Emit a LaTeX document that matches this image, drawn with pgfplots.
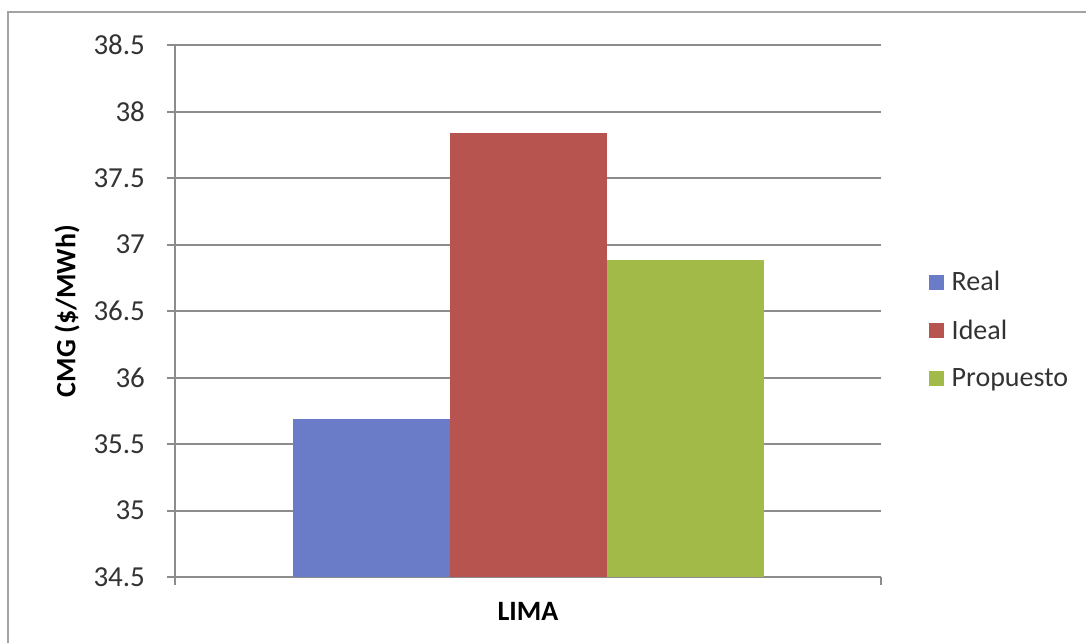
\documentclass[border=0pt]{standalone}
\usepackage{fontspec}
\setmainfont{Carlito}
\usepackage{pgfplots}
\pgfplotsset{compat=1.18}
\definecolor{cReal}{RGB}{106,124,200}
\definecolor{cIdeal}{RGB}{184,84,80}
\definecolor{cProp}{RGB}{162,186,72}
\definecolor{cGrid}{RGB}{140,140,140}
\begin{document}
\begin{tikzpicture}
\useasboundingbox (0,0) rectangle (543pt,321.5pt);
\draw[cGrid!80, line width=1.2pt] (4pt,0) -- (4pt,315.5pt) -- (543pt,315.5pt);
\begin{axis}[
  at={(87.5pt,33pt)}, anchor=south west,
  scale only axis, width=353pt, height=266pt,
  ybar=0pt, bar width=78.5pt,
  xmin=-1, xmax=1, ymin=34.5, ymax=38.5,
  ytick={34.5,35,...,38.5},
  yticklabels={34.5,35,35.5,36,36.5,37,37.5,38,38.5},
  xtick={-1,1}, xticklabels={,},
  tick align=outside, major tick length=4pt,
  ymajorgrids, grid style={cGrid, line width=1pt},
  axis line style={cGrid, line width=1pt},
  tick style={cGrid, line width=1pt},
  axis x line*=bottom, axis y line*=left,
  /pgf/number format/assume math mode=true,
  tick label style={font=\fontsize{14.5}{16}\selectfont, text=black!80},
  yticklabel style={xshift=-7.5pt},
  ylabel={\textbf{CMG (\$/MWh)}},
  ylabel style={at={(axis description cs:-0.153,0.5)}, anchor=center, font=\fontsize{14}{16}\selectfont},
  xlabel={\textbf{LIMA}},
  xlabel style={at={(axis description cs:0.5,-0.064)}, anchor=center, font=\fontsize{14}{16}\selectfont},
  legend style={at={(axis description cs:1.067,0.464)}, anchor=west, draw=none, fill=none,
    font=\fontsize{14}{16}\selectfont, inner sep=0pt, row sep=9pt,
    text=black!80},
  legend cell align=left,
  legend image code/.code={\fill[#1] (0pt,-3.75pt) rectangle (7.5pt,3.75pt); \path (9.5pt,0pt);},
]
\addplot[fill=cReal, draw=none] coordinates {(0,35.69)};
\addplot[fill=cIdeal, draw=none] coordinates {(0,37.84)};
\addplot[fill=cProp, draw=none] coordinates {(0,36.88)};
\legend{Real,Ideal,Propuesto}
\end{axis}
\end{tikzpicture}
\end{document}
